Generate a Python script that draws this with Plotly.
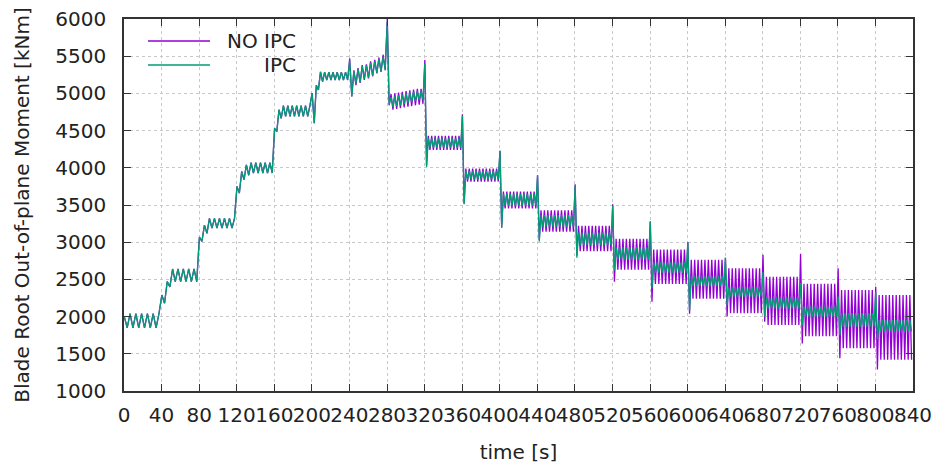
import plotly.graph_objects as go

# ---- data ----
seg_start = [0, 40, 80, 120, 160, 200, 240, 280, 320, 360, 400,
             440, 480, 520, 560, 600, 640, 680, 720, 760, 800]
seg_cycles = [6.5, 7, 7.5, 8, 8.5, 9, 9, 10, 11, 11, 11,
              11, 11, 11, 11, 11, 11, 11, 11, 11, 11]

# transient extremes right after each wind step [kNm]
noipc_lead = [[2000], [2290, 2180, 2470, 2400], [3070, 3010, 3230, 3120],
              [3750, 3660, 3950, 3840, 4040, 3900], [4530, 4485, 4780, 4665],
              [5005, 4600, 5110, 5045, 5290, 5160], [5470, 4960], [6000, 4840],
              [5450, 4030], [4720, 3520], [4230, 3200], [3900, 3030],
              [3780, 2820], [3510, 2470], [3280, 2200], [3000, 2040],
              [2790, 2000], [2830, 1930], [2840, 1640], [2650, 1440], [2400, 1290]]
ipc_lead = [[2000], [2290, 2180, 2470, 2400], [3070, 3010, 3230, 3120],
            [3750, 3660, 3950, 3840, 4040, 3900], [4530, 4485, 4780, 4665],
            [5005, 4600, 5110, 5045, 5290, 5160], [5440, 4960], [5960, 4850],
            [5400, 4010], [4700, 3510], [4230, 3190], [3900, 3010],
            [3760, 2790], [3490, 2620], [3270, 2380], [3000, 2080],
            [2790, 2150], [2600, 2000], [2450, 1880], [2270, 1750], [2330, 1700]]

# settled oscillation peaks / troughs per segment [kNm]
noipc_peak = [2040, 2640, 3320, 4070, 4835, 5285,
              [5310, 5340, 5380, 5390, 5430, 5450, 5480, 5520, 5540],
              [4990, 5000, 5010, 5020, 5030, 5040, 5050, 5060, 5060],
              4430, 3990, 3680, 3430, 3220, 3045, 2900, 2765, 2650, 2536, 2440, 2357, 2290]
noipc_trough = [1850, 2470, 3190, 3930, 4690, 5180,
                [5110, 5140, 5180, 5200, 5230, 5270, 5290, 5310, 5340],
                [4780, 4790, 4800, 4810, 4820, 4830, 4840, 4850, 4860],
                4240, 3815, 3455, 3140, 2880, 2630, 2440, 2240, 2045, 1887, 1735, 1574, 1420]
ipc_peak = [2040, 2640, 3320, 4070, 4835, 5285,
            [5300, 5330, 5370, 5380, 5410, 5430, 5460, 5490, 5500],
            [4950, 4960, 4970, 4985, 5000, 5010, 5020, 5030, 5030],
            4395, 3960, 3650, 3365, 3130, 2930, 2730, 2540, 2390, 2250, 2135, 2045, 1955]
ipc_trough = [1850, 2470, 3190, 3930, 4690, 5180,
              [5130, 5150, 5190, 5210, 5240, 5280, 5300, 5330, 5350],
              [4820, 4830, 4840, 4855, 4870, 4885, 4900, 4910, 4915],
              4270, 3845, 3490, 3210, 2960, 2765, 2590, 2410, 2270, 2111, 2000, 1864, 1800]

x_ticks = list(range(0, 841, 40))
y_ticks = list(range(1000, 6001, 500))


def build(leads, peaks, troughs):
    ts, vs = [], []
    for i, t0 in enumerate(seg_start):
        h = 40.0 / (2 * seg_cycles[i])
        n = int(round(2 * seg_cycles[i]))
        pk = peaks[i] if isinstance(peaks[i], list) else [peaks[i]]
        tr = troughs[i] if isinstance(troughs[i], list) else [troughs[i]]
        seq = list(leads[i])
        mean = (pk[0] + tr[0]) / 2
        high = seq[-1] < mean
        j_p = j_t = 0
        while len(seq) < n:
            if high:
                seq.append(pk[min(j_p, len(pk) - 1)]); j_p += 1
            else:
                seq.append(tr[min(j_t, len(tr) - 1)]); j_t += 1
            high = not high
        for k, v in enumerate(seq[:n]):
            ts.append(t0 + 0.3 + k * h)
            vs.append(v)
    return ts, vs


t_no, v_no = build(noipc_lead, noipc_peak, noipc_trough)
t_ip, v_ip = build(ipc_lead, ipc_peak, ipc_trough)

PURPLE = "#9400D3"
TEAL = "#009E73"
FONT = "DejaVu Sans"
TXT = "#222222"
FS = 20

fig = go.Figure()
fig.add_trace(go.Scatter(x=t_no, y=v_no, mode="lines", name="NO IPC",
                         line=dict(color=PURPLE, width=1.3), showlegend=False))
fig.add_trace(go.Scatter(x=t_ip, y=v_ip, mode="lines", name="IPC",
                         line=dict(color=TEAL, width=1.3), showlegend=False))

# legend drawn in gnuplot style (text right-justified, sample on the left)
W, H = 789.0, 372.0
for name, col, ypx in [("NO IPC", PURPLE, 41), ("IPC", TEAL, 65)]:
    yp = (391 - ypx) / H
    fig.add_shape(type="line", xref="paper", yref="paper",
                  x0=(148 - 124) / W, x1=(210 - 124) / W, y0=yp, y1=yp,
                  line=dict(color=col, width=1.3))
    fig.add_annotation(xref="paper", yref="paper", x=(298 - 124) / W, y=yp,
                       text=name, showarrow=False, xanchor="right", yanchor="middle",
                       font=dict(family=FONT, size=FS, color=TXT))

axis_common = dict(showline=True, linecolor="#333333", linewidth=1.5, mirror="allticks",
                   ticks="inside", ticklen=7, tickwidth=1.3, tickcolor="#333333",
                   showgrid=True, gridcolor="#c8c8c8", griddash="dot", gridwidth=1,
                   zeroline=False, automargin=False,
                   tickfont=dict(family=FONT, size=FS, color=TXT))

fig.update_xaxes(range=[0, 840], tickvals=x_ticks, ticktext=[str(v) for v in x_ticks],
                 tickangle=0, ticklabelstandoff=5,
                 title=dict(text="time [s]", font=dict(family=FONT, size=FS, color=TXT),
                            standoff=22),
                 **axis_common)
fig.update_yaxes(range=[1000, 6000], tickvals=y_ticks, ticktext=[str(v) for v in y_ticks],
                 ticklabelstandoff=12,
                 title=dict(text="Blade Root Out-of-plane Moment [kNm]",
                            font=dict(family=FONT, size=FS, color=TXT), standoff=20),
                 **axis_common)

fig.update_layout(width=939, height=464, margin=dict(l=124, r=26, t=19, b=73),
                  plot_bgcolor="white", paper_bgcolor="white",
                  font=dict(family=FONT, size=FS, color=TXT))

fig.write_html("out.html")
